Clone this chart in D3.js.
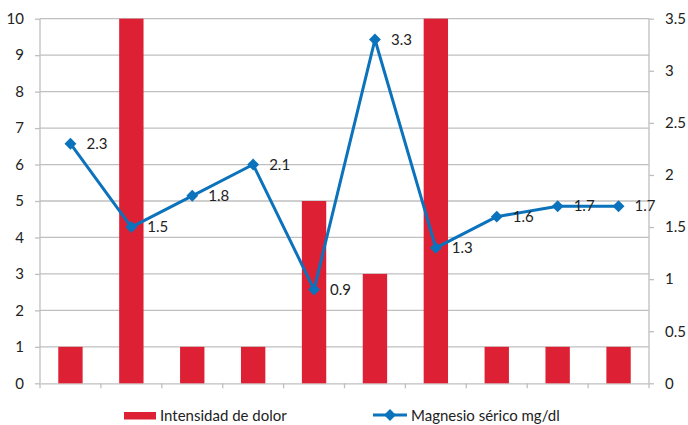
<!DOCTYPE html>
<html>
<head>
<meta charset="utf-8">
<script src="https://cdn.jsdelivr.net/npm/d3@7"></script>
<style>
  html, body { margin: 0; padding: 0; background: #fff; }
  svg { display: block; font-family: Lato, "Open Sans", sans-serif; }
</style>
</head>
<body>
<svg id="chart" width="688" height="425"></svg>
<script>
// Pain intensity per patient (left axis) and serum magnesium (right axis)
const categories = ["1", "2", "3", "4", "5", "6", "7", "8", "9", "10"];
const painIntensity = [1, 10, 1, 1, 5, 3, 10, 1, 1, 1];
const magnesium = [2.3, 1.5, 1.8, 2.1, 0.9, 3.3, 1.3, 1.6, 1.7, 1.7];
const leftTicks = [0, 1, 2, 3, 4, 5, 6, 7, 8, 9, 10];
const rightTicks = [0, 0.5, 1, 1.5, 2, 2.5, 3, 3.5];
const seriesNames = ["Intensidad de dolor", "Magnesio sérico mg/dl"];

const svg = d3.select("#chart");
const m = { left: 40, right: 39, top: 18.7, bottom: 41.7 };
const W = 688, H = 425;
const iw = W - m.left - m.right, ih = H - m.top - m.bottom;

const x = d3.scaleBand().domain(categories).range([m.left, m.left + iw]).paddingInner(0.6).paddingOuter(0.3);
const xb = d3.scaleBand().domain(categories).range([m.left, m.left + iw]);
const yL = d3.scaleLinear().domain([0, 10]).range([m.top + ih, m.top]);
const yR = d3.scaleLinear().domain([0, 3.5]).range([m.top + ih, m.top]);

const grid = "#BFBFBF";
const red = "#DE2034";
const blue = "#0B72BC";

// horizontal gridlines
svg.append("g").selectAll("line").data(leftTicks.filter(d => d > 0)).join("line")
  .attr("x1", m.left).attr("x2", m.left + iw)
  .attr("y1", d => yL(d)).attr("y2", d => yL(d))
  .attr("stroke", grid).attr("stroke-width", 1.3);

// left axis
const gL = svg.append("g").attr("transform", `translate(${m.left},0)`)
  .call(d3.axisLeft(yL).tickValues(leftTicks).tickSize(5).tickPadding(11).tickFormat(d3.format("d")));
// right axis
const gR = svg.append("g").attr("transform", `translate(${m.left + iw},0)`)
  .call(d3.axisRight(yR).tickValues(rightTicks).tickSize(5).tickPadding(11).tickFormat(d => String(d)));
// bottom axis with ticks at category boundaries
const gB = svg.append("g").attr("transform", `translate(0,${m.top + ih})`)
  .call(d3.axisBottom(xb).tickSize(0).tickFormat(""));
gB.selectAll(".tick").remove();
gB.selectAll("line.bnd").data(d3.range(categories.length + 1)).join("line")
  .attr("class", "bnd")
  .attr("x1", i => m.left + i * xb.step()).attr("x2", i => m.left + i * xb.step())
  .attr("y1", 0).attr("y2", 5).attr("stroke", grid).attr("stroke-width", 1.3);

[gL, gR, gB].forEach(g => {
  g.selectAll(".domain").attr("stroke", grid).attr("stroke-width", 1.3);
  g.selectAll(".tick line").attr("stroke", grid).attr("stroke-width", 1.3);
  g.selectAll(".tick text").attr("fill", "#222").style("font-size", "15px").style("font-family", "Lato, sans-serif");
});
gL.select(".domain").attr("d", `M0,${m.top}V${m.top + ih}`);
gR.select(".domain").attr("d", `M0,${m.top}V${m.top + ih}`);

// bars
svg.append("g").selectAll("rect").data(categories).join("rect")
  .attr("x", d => x(d))
  .attr("width", x.bandwidth())
  .attr("y", (d, i) => yL(painIntensity[i]))
  .attr("height", (d, i) => yL(0) - yL(painIntensity[i]))
  .attr("fill", red);

// magnesium line
const cx = (d) => xb(d) + xb.bandwidth() / 2;
const line = d3.line().x((d, i) => cx(categories[i])).y(d => yR(d));
svg.append("path").datum(magnesium).attr("d", line)
  .attr("fill", "none").attr("stroke", blue).attr("stroke-width", 3).attr("stroke-linejoin", "round");

const diamond = d3.symbol().type(d3.symbolDiamond2).size(90);
svg.append("g").selectAll("path").data(magnesium).join("path")
  .attr("d", diamond)
  .attr("transform", (d, i) => `translate(${cx(categories[i])},${yR(d)})`)
  .attr("fill", blue);

// value labels
svg.append("g").selectAll("text").data(magnesium).join("text")
  .attr("x", (d, i) => cx(categories[i]) + 16)
  .attr("y", d => yR(d) + 5)
  .attr("fill", "#222").style("font-size", "15px")
  .text(d => d3.format(".1f")(d));

// legend
const lg = svg.append("g");
lg.append("rect").attr("x", 124).attr("y", 412).attr("width", 32).attr("height", 7.5).attr("fill", red);
lg.append("text").attr("x", 160).attr("y", 421).attr("fill", "#222").style("font-size", "15px").text(seriesNames[0]);
lg.append("line").attr("x1", 373).attr("x2", 407).attr("y1", 415).attr("y2", 415)
  .attr("stroke", blue).attr("stroke-width", 3);
lg.append("path").attr("d", diamond).attr("transform", "translate(390,415)").attr("fill", blue);
lg.append("text").attr("x", 411).attr("y", 421).attr("fill", "#222").style("font-size", "15px").text(seriesNames[1]);
</script>
</body>
</html>
